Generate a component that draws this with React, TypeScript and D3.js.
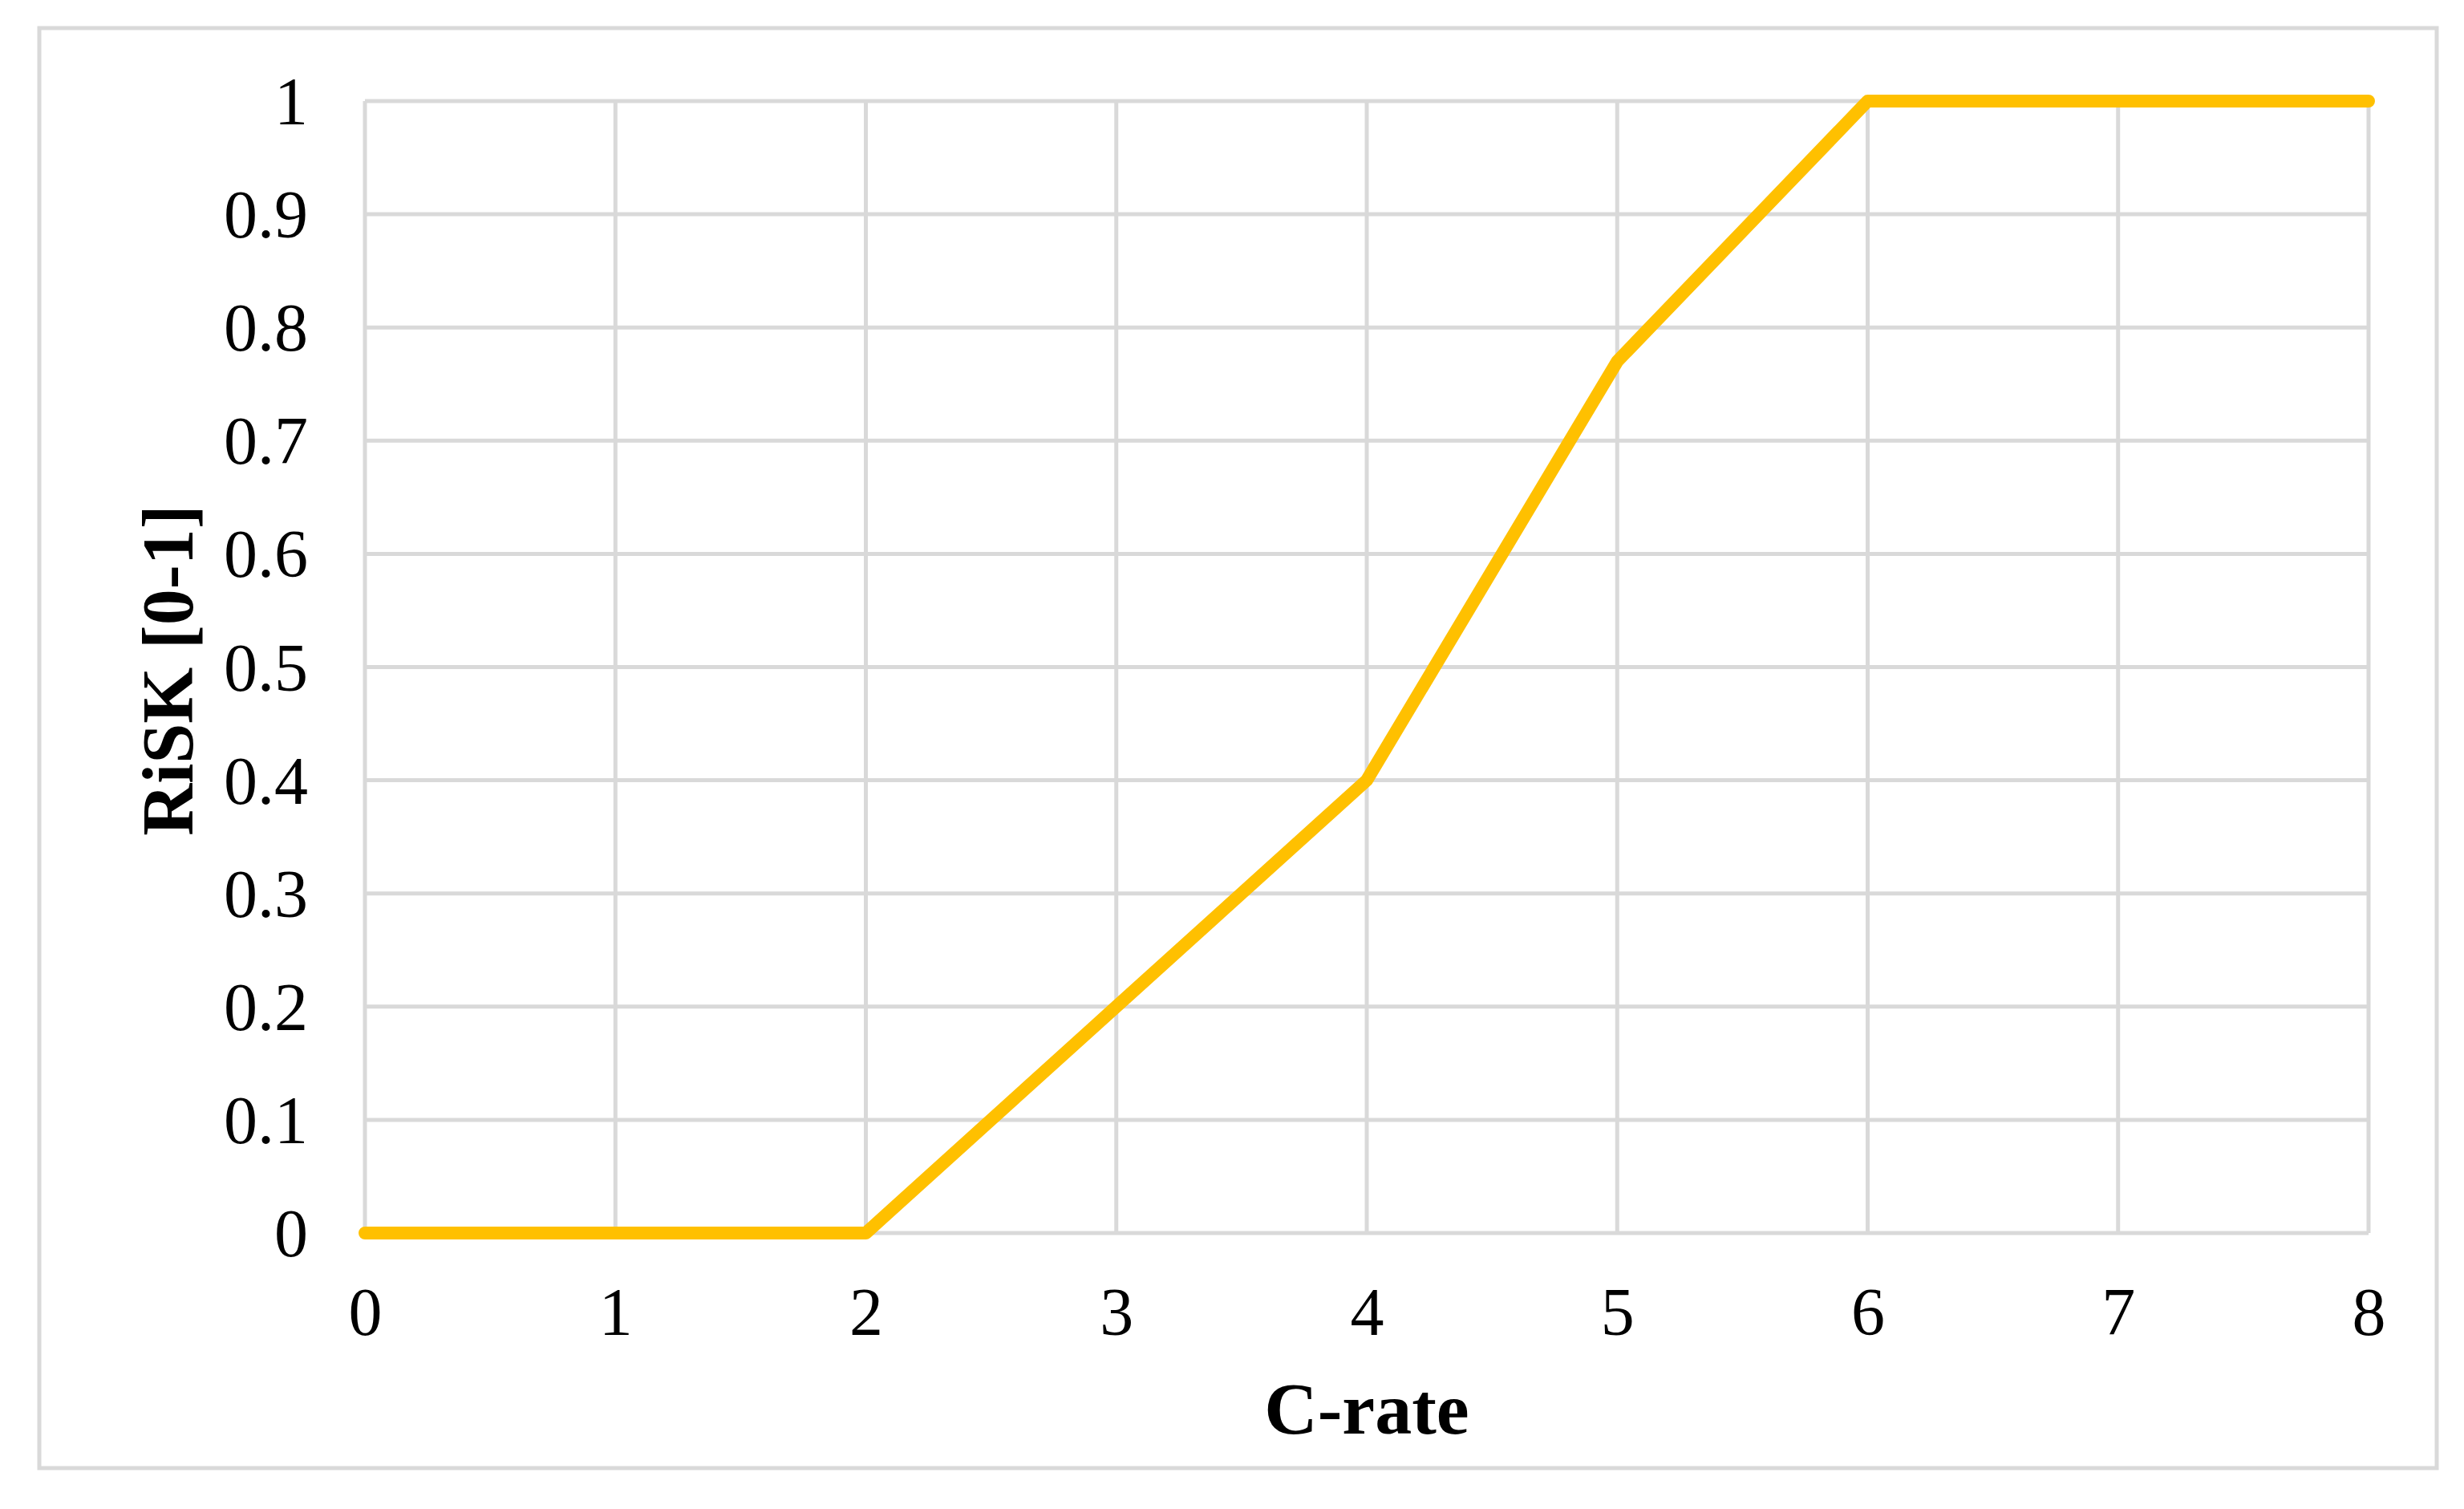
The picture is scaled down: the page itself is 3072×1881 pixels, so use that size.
import React, { useEffect, useRef } from "react";
import * as d3 from "d3";

// C-rate vs risk
const cRates = [0, 1, 2, 3, 4, 5, 6, 7, 8];
const riskValues = [0, 0, 0, 0.2, 0.4, 0.77, 1, 1, 1];
const yTicks = [0, 0.1, 0.2, 0.3, 0.4, 0.5, 0.6, 0.7, 0.8, 0.9, 1];
const xTicks = [0, 1, 2, 3, 4, 5, 6, 7, 8];

const W = 3072;
const H = 1881;

const RiskChart = () => {
  const ref = useRef<SVGSVGElement>(null);

  useEffect(() => {
    const svg = d3.select(ref.current);
    svg.selectAll("*").remove();

    const margin = { left: 455, right: W - 2953, top: 126, bottom: H - 1537 };
    const font = "'Liberation Serif', 'Times New Roman', serif";

    const x = d3.scaleLinear().domain([0, 8]).range([margin.left, W - margin.right]);
    const y = d3.scaleLinear().domain([0, 1]).range([H - margin.bottom, margin.top]);

    svg.append("rect").attr("width", W).attr("height", H).attr("fill", "#fff");

    // outer chart frame
    svg
      .append("rect")
      .attr("x", 49)
      .attr("y", 35)
      .attr("width", 3038 - 49)
      .attr("height", 1830 - 35)
      .attr("fill", "none")
      .attr("stroke", "#d9d9d9")
      .attr("stroke-width", 5);

    // gridlines
    const grid = svg.append("g").attr("stroke", "#d9d9d9").attr("stroke-width", 5);
    grid
      .selectAll("line.h")
      .data(yTicks)
      .join("line")
      .attr("class", "h")
      .attr("x1", x(0))
      .attr("x2", x(8))
      .attr("y1", (d) => y(d))
      .attr("y2", (d) => y(d));
    grid
      .selectAll("line.v")
      .data(xTicks)
      .join("line")
      .attr("class", "v")
      .attr("x1", (d) => x(d))
      .attr("x2", (d) => x(d))
      .attr("y1", y(0))
      .attr("y2", y(1));

    // tick labels via d3 axes, then strip the axis lines
    const yAxis = svg
      .append("g")
      .attr("transform", `translate(${x(0) - 71},0)`)
      .call(d3.axisLeft(y).tickValues(yTicks).tickSize(0).tickPadding(0).tickFormat((d) => String(d)));
    const xAxis = svg
      .append("g")
      .attr("transform", `translate(0,${y(0) + 70})`)
      .call(d3.axisBottom(x).tickValues(xTicks).tickSize(0).tickPadding(0).tickFormat((d) => String(d)));

    [yAxis, xAxis].forEach((g) => {
      g.select(".domain").remove();
      g.selectAll("text")
        .style("font-family", font)
        .style("font-size", "84px")
        .attr("fill", "#000");
    });
    yAxis.selectAll("text").attr("dy", "0.34em");
    xAxis.selectAll("text").attr("dy", "0.68em");

    // the line
    const pts = cRates.map((c, i) => [c, riskValues[i]] as [number, number]);
    const line = d3
      .line<[number, number]>()
      .x((d) => x(d[0]))
      .y((d) => y(d[1]));
    svg
      .append("path")
      .datum(pts)
      .attr("d", line)
      .attr("fill", "none")
      .attr("stroke", "#ffc000")
      .attr("stroke-width", 16)
      .attr("stroke-linejoin", "round")
      .attr("stroke-linecap", "round");

    // axis titles
    svg
      .append("text")
      .attr("x", (x(0) + x(8)) / 2)
      .attr("y", 1787)
      .attr("text-anchor", "middle")
      .style("font-family", font)
      .style("font-size", "92px")
      .style("font-weight", "bold")
      .text("C-rate");

    svg
      .append("text")
      .attr("transform", `translate(240,${(y(0) + y(1)) / 2 + 4}) rotate(-90)`)
      .attr("text-anchor", "middle")
      .style("font-family", font)
      .style("font-size", "90px")
      .style("font-weight", "bold")
      .text("RiSK [0-1]");
  }, []);

  return (
    <svg
      ref={ref}
      width={W}
      height={H}
      style={{ position: "absolute", left: 0, top: 0 }}
    ></svg>
  );
};

export default function App() {
  return <RiskChart />;
}
